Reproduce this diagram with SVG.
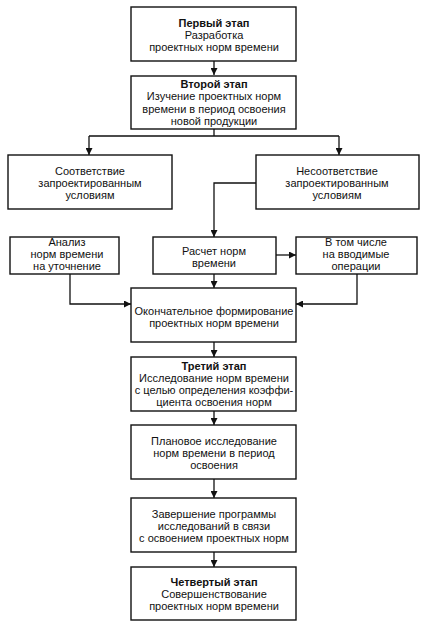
<svg xmlns="http://www.w3.org/2000/svg" width="426" height="625" viewBox="0 0 426 625">
<defs>
<marker id="ah" viewBox="0 0 10 10" refX="10" refY="5" markerWidth="7" markerHeight="7" markerUnits="userSpaceOnUse" orient="auto">
<path d="M0,0 L10,5 L0,10 Z" fill="#111"/>
</marker>
<style>
rect{fill:#fff;stroke:#111;stroke-width:1.4}
text{font-family:"Liberation Sans",Arial,sans-serif;font-size:11px;fill:#111;text-anchor:middle}
.b{font-weight:bold}
.c{fill:none;stroke:#111;stroke-width:1.3}
</style>
</defs>
<rect x="0" y="0" width="426" height="625" style="fill:#fff;stroke:none"/>
<g id="connectors">
<path class="c" d="M214,61 V75" marker-end="url(#ah)"/>
<path class="c" d="M214,129 V136 M89,136 H339"/>
<path class="c" d="M89,136 V155" marker-end="url(#ah)"/>
<path class="c" d="M339,136 V155" marker-end="url(#ah)"/>
<path class="c" d="M256,183 H214 V237" marker-end="url(#ah)"/>
<path class="c" d="M276,255 H296" marker-end="url(#ah)"/>
<path class="c" d="M70,274 V304 H131" marker-end="url(#ah)"/>
<path class="c" d="M214,274 V288" marker-end="url(#ah)"/>
<path class="c" d="M357,274 V304 H296" marker-end="url(#ah)"/>
<path class="c" d="M214,342 V357" marker-end="url(#ah)"/>
<path class="c" d="M214,411 V425" marker-end="url(#ah)"/>
<path class="c" d="M214,479 V498" marker-end="url(#ah)"/>
<path class="c" d="M214,552 V567" marker-end="url(#ah)"/>
</g>
<g id="stage1">
<rect x="131" y="7" width="165" height="54"/>
<text x="214" y="26.5" class="b">Первый этап</text>
<text x="214" y="38.5">Разработка</text>
<text x="214" y="50.5">проектных норм времени</text>
</g>
<g id="stage2">
<rect x="131" y="76" width="165" height="53"/>
<text x="214" y="88" class="b">Второй этап</text>
<text x="214" y="100.3">Изучение проектных норм</text>
<text x="214" y="112.5">времени в период освоения</text>
<text x="214" y="124.7">новой продукции</text>
</g>
<g id="match">
<rect x="8" y="155" width="164" height="54"/>
<text x="90" y="175">Соответствие</text>
<text x="90" y="187">запроектированным</text>
<text x="90" y="199">условиям</text>
</g>
<g id="mismatch">
<rect x="256" y="155" width="163" height="54"/>
<text x="337" y="175">Несоответствие</text>
<text x="337" y="187">запроектированным</text>
<text x="337" y="199">условиям</text>
</g>
<g id="analysis">
<rect x="10" y="237" width="109" height="37"/>
<text x="67" y="246">Анализ</text>
<text x="67" y="258">норм времени</text>
<text x="67" y="270">на уточнение</text>
</g>
<g id="calc">
<rect x="153" y="237" width="123" height="37"/>
<text x="214" y="255">Расчет норм</text>
<text x="214" y="267">времени</text>
</g>
<g id="including">
<rect x="296" y="237" width="121" height="37"/>
<text x="356" y="246">В том числе</text>
<text x="356" y="258">на вводимые</text>
<text x="356" y="270">операции</text>
</g>
<g id="final">
<rect x="131" y="288" width="165" height="54"/>
<text x="214" y="315">Окончательное формирование</text>
<text x="214" y="327">проектных норм времени</text>
</g>
<g id="stage3">
<rect x="131" y="357" width="165" height="54"/>
<text x="214" y="370" class="b">Третий этап</text>
<text x="214" y="382">Исследование норм времени</text>
<text x="214" y="394">с целью определения коэффи-</text>
<text x="214" y="406">циента освоения норм</text>
</g>
<g id="planned">
<rect x="131" y="425" width="165" height="54"/>
<text x="214" y="445">Плановое исследование</text>
<text x="214" y="457">норм времени в период</text>
<text x="214" y="469">освоения</text>
</g>
<g id="completion">
<rect x="131" y="498" width="165" height="54"/>
<text x="214" y="518">Завершение программы</text>
<text x="214" y="530">исследований в связи</text>
<text x="214" y="542">с освоением проектных норм</text>
</g>
<g id="stage4">
<rect x="131" y="567" width="165" height="53"/>
<text x="214" y="586" class="b">Четвертый этап</text>
<text x="214" y="598">Совершенствование</text>
<text x="214" y="610">проектных норм времени</text>
</g>
</svg>
